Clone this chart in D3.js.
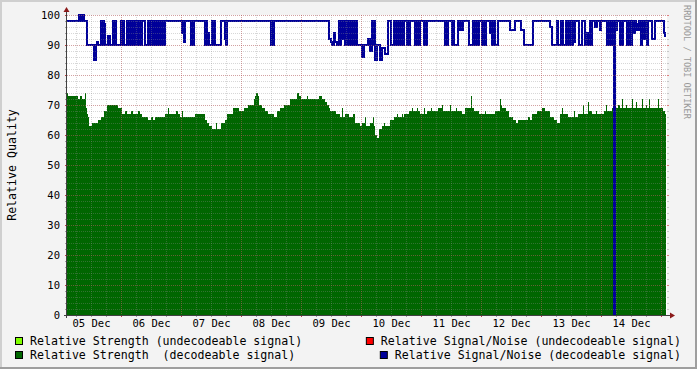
<html>
<head>
    <script src="https://d3js.org/d3.v7.min.js"></script>
    <style type="text/css">
        body { margin: 0; }
        text { font-family: "DejaVu Sans Mono", monospace; fill: #000; }
    </style>
</head>

<body>
    <svg></svg>

    <script>
        const Width = 697, Height = 369;
        const Left = 67, Right = 667, Top = 15, Bottom = 315;

        // readings: [hours after 05 Dec 00:00, value]
        const strength = [
            [2.4,74],[2.8,73],[6.8,72],[7.6,73],[8.4,72],[9.6,74],[10,69],[10.4,67],[10.8,66],[11.2,63],
            [12.4,64],[14.8,65],[16,66],[17.2,68],[18.4,70],[22.8,69],[24.4,67],[25.6,68],[26.4,67],[28,68],
            [28.8,67],[30.8,68],[31.6,67],[32.4,66],[34.8,65],[36,66],[36.8,65],[37.6,66],[41.6,67],[42.8,69],
            [43.2,67],[46,68],[46.8,67],[47.6,66],[48.4,68],[48.8,66],[53.6,67],[57.6,65],[58.4,64],[59.2,63],
            [60.4,62],[62,64],[62.4,62],[64,64],[65.6,65],[66.4,67],[68.8,69],[71.2,68],[73.2,69],[74.8,70],
            [77.2,72],[77.6,73],[78,74],[78.8,73],[79.2,70],[80.4,69],[81.6,68],[82.8,67],[85.2,66],[86.4,68],
            [87.6,69],[89.2,70],[91.6,72],[94.4,74],[95.2,73],[96,72],[98.4,73],[98.8,72],[103.2,73],[104.4,72],
            [105.6,71],[106.4,70],[107.2,69],[107.6,68],[110,67],[111.6,66],[112.4,69],[112.8,66],[113.6,67],[115.2,66],
            [116.8,67],[117.6,64],[119.6,63],[120.4,64],[121.6,66],[122,63],[123.6,64],[124.8,66],[125.2,63],[125.6,60],
            [126.4,59],[127.2,62],[128.4,63],[129.2,64],[129.6,63],[131.6,65],[133.2,66],[134.4,67],[134.8,66],[136.4,67],
            [136.8,66],[137.2,67],[139.2,68],[140.4,69],[140.8,68],[142.4,69],[142.8,68],[143.6,67],[145.2,69],[145.6,67],
            [146.4,68],[148,69],[148.4,68],[150.8,69],[152.4,70],[152.8,68],[155.6,70],[156,68],[158,69],[158.4,68],
            [160.4,67],[161.6,69],[164,73],[164.4,69],[165.2,68],[167.2,67],[169.6,68],[170,67],[173.6,68],[175.6,72],
            [176,70],[176.4,69],[178,68],[179.2,66],[180.8,65],[182,64],[182.8,65],[186.8,66],[187.6,65],[188.4,67],
            [190.4,68],[192.4,69],[193.6,68],[195.6,66],[197.2,65],[198.4,64],[199.6,67],[200.4,69],[200.8,67],[202.8,66],
            [205.2,68],[205.6,66],[206.8,67],[208.8,70],[209.2,67],[210.8,71],[211.2,68],[212.4,67],[214,68],[214.4,67],
            [217.2,68],[218,70],[218.4,68],[220.4,69],[222.8,70],[223.6,69],[224.4,72],[224.8,69],[226,70],[226.4,69],
            [228.4,72],[228.8,69],[230,71],[230.4,69],[232.4,72],[232.8,69],[234,70],[234.4,69],[235.2,72],[235.6,69],
            [238.8,72],[239.2,69],[240.8,68],[241.6,67],[242,67]
        ];

        const snr = [
            [2.4,98],[7.2,100],[8,98],[8.4,100],[9.2,98],[10.4,90],[13.2,85],[14,90],[14.4,91],[14.8,90],
            [16,98],[16.4,90],[16.8,98],[17.2,97],[17.6,90],[18.8,93],[19.6,90],[20.8,98],[21.2,90],[21.6,98],
            [22,90],[24,98],[24.4,90],[24.8,98],[25.2,90],[26.4,98],[26.8,90],[27.2,98],[27.6,90],[28,98],
            [28.4,90],[28.8,98],[29.2,90],[29.6,98],[30,90],[30.4,98],[30.8,90],[31.6,98],[32,90],[32.4,98],
            [33.6,90],[34.8,98],[35.2,90],[35.6,98],[36,90],[36.4,98],[36.8,90],[37.6,98],[38,90],[38.4,98],
            [38.8,90],[39.2,98],[39.6,90],[40,98],[40.4,90],[40.8,98],[41.2,90],[41.6,98],[48.4,94],[48.8,98],
            [49.2,91],[49.6,98],[52,90],[52.4,98],[52.8,90],[53.2,98],[57.6,90],[58,98],[58.4,90],[58.8,94],
            [59.2,90],[60.4,98],[60.8,90],[61.2,98],[61.6,90],[64,98],[65.6,92],[66,90],[66.4,98],[84,90],
            [84.4,98],[84.8,90],[85.2,98],[107.2,92],[108,91],[108.4,90],[109.2,94],[109.6,91],[110.4,90],[111.2,98],
            [111.6,90],[112,98],[112.4,92],[113.2,98],[113.6,90],[114,98],[114.4,90],[114.8,98],[115.2,90],[115.6,98],
            [116,90],[116.4,98],[116.8,90],[117.2,98],[117.6,90],[118,98],[118.4,90],[120.4,86],[121.2,90],[122.8,92],
            [123.6,88],[124.4,98],[124.8,90],[125.2,98],[125.6,85],[126.4,90],[127.6,85],[128.4,89],[129.6,87],[130.8,98],
            [132,90],[133.2,98],[133.6,90],[134,98],[134.4,90],[134.8,98],[135.2,90],[135.6,98],[136,90],[136.4,98],
            [136.8,90],[137.2,98],[138.4,90],[138.8,98],[139.2,90],[139.6,98],[141.6,90],[142,98],[142.4,90],[142.8,98],
            [143.2,90],[143.6,98],[145.2,90],[145.6,98],[146,90],[146.4,98],[153.6,90],[154,98],[154.4,90],[154.8,98],
            [156.4,90],[156.8,98],[157.2,90],[158.8,98],[159.6,95],[160,98],[160.4,95],[160.8,98],[163.2,90],[164.8,98],
            [165.2,90],[165.6,98],[166,90],[166.4,98],[166.8,90],[167.2,98],[168.4,90],[169.2,98],[169.6,90],[170,98],
            [171.6,94],[172,98],[172.4,90],[173.2,98],[173.6,90],[174.8,98],[179.6,95],[181.6,98],[184,95],[185.2,90],
            [188.8,98],[195.6,96],[196.4,90],[198.4,98],[198.8,90],[200,98],[200.8,90],[202,98],[202.4,90],[202.8,98],
            [203.2,90],[203.6,98],[204.4,90],[204.8,98],[205.2,91],[205.6,98],[207.2,90],[208.4,98],[209.6,90],[210.4,94],
            [210.8,90],[211.6,98],[212,90],[212.4,98],[213.6,96],[214.4,98],[215.6,95],[216,98],[218.4,90],[218.8,98],
            [219.2,90],[219.6,98],[220,90],[220.4,98],[220.8,95],[221.2,0],[221.6,98],[222,95],[222.4,98],[223.6,90],
            [224,98],[224.4,90],[224.8,98],[226.4,90],[226.8,98],[227.2,90],[227.6,98],[228,90],[228.4,98],[229.2,94],
            [229.6,98],[230,95],[230.4,97],[230.8,95],[231.2,98],[231.6,96],[232,90],[232.4,98],[232.8,92],[233.2,98],
            [233.6,92],[234,98],[234.4,90],[234.8,98],[236.4,92],[237.6,98],[241.2,94],[241.6,93],[242,93]
        ];

        const yTicks = [0, 10, 20, 30, 40, 50, 60, 70, 80, 90, 100];
        const dayLabels = ["05 Dec", "06 Dec", "07 Dec", "08 Dec", "09 Dec",
                           "10 Dec", "11 Dec", "12 Dec", "13 Dec", "14 Dec"];
        const legendNames = ["Relative Strength (undecodeable signal)",
                             "Relative Strength  (decodeable signal)",
                             "Relative Signal/Noise (undecodeable signal)",
                             "Relative Signal/Noise (decodeable signal)"];
        const legendColors = ["#80ff00", "#006600", "#ff0000", "#000099"];

        const t0 = new Date(2008, 11, 5);
        const at = (h) => new Date(t0.getTime() + h*3600000);

        const x = d3.scaleTime().domain([at(2.4), at(242.4)]).range([Left, Right]);
        const y = d3.scaleLinear().domain([0, 100]).range([Bottom, Top]);

        var svg = d3.select("svg")
            .attr("width", Width).attr("height", Height);

        // background and shading
        svg.append("rect").attr("width", Width).attr("height", Height).attr("fill", "#f3f3f3");
        svg.append("path").attr("fill", "#cfcfcf")
            .attr("d", `M0,0H${Width}V2H2V${Height}H0Z`);
        svg.append("path").attr("fill", "#9e9e9e")
            .attr("d", `M${Width},${Height}H0V${Height-2}H${Width-2}V0H${Width}Z`);

        svg.append("rect")
            .attr("x", Left).attr("y", Top)
            .attr("width", Right-Left).attr("height", Bottom-Top)
            .attr("fill", "#fff");

        // data
        var area = d3.area()
            .x((d) => x(at(d[0])))
            .y0(y(0))
            .y1((d) => y(d[1]))
            .curve(d3.curveStepAfter);

        svg.append("path").datum(strength)
            .attr("d", area)
            .attr("fill", "#006600")
            .attr("shape-rendering", "crispEdges");

        var line = d3.line()
            .x((d) => x(at(d[0])))
            .y((d) => y(d[1]))
            .curve(d3.curveStepAfter);

        svg.append("path").datum(snr)
            .attr("d", line)
            .attr("fill", "none")
            .attr("stroke", "#000099")
            .attr("stroke-width", 2);

        // grid
        var grid = svg.append("g").attr("shape-rendering", "crispEdges")
            .attr("stroke-dasharray", "1,1");

        var minorX = d3.timeHour.every(6).range(x.domain()[0], x.domain()[1]);
        var majorX = d3.timeDay.range(x.domain()[0], x.domain()[1]);
        var minorY = d3.range(0, 101, 2);

        grid.selectAll("line.minx").data(minorX).enter().append("line")
            .attr("x1", (d) => Math.round(x(d)) + 0.5).attr("x2", (d) => Math.round(x(d)) + 0.5)
            .attr("y1", Top).attr("y2", Bottom)
            .attr("stroke", "rgba(140,140,140,0.35)");
        grid.selectAll("line.miny").data(minorY).enter().append("line")
            .attr("x1", Left).attr("x2", Right)
            .attr("y1", (d) => y(d) + 0.5).attr("y2", (d) => y(d) + 0.5)
            .attr("stroke", "rgba(140,140,140,0.35)");
        grid.selectAll("line.majx").data(majorX).enter().append("line")
            .attr("x1", (d) => Math.round(x(d)) + 0.5).attr("x2", (d) => Math.round(x(d)) + 0.5)
            .attr("y1", Top).attr("y2", Bottom)
            .attr("stroke", "rgba(200,60,60,0.35)");
        grid.selectAll("line.majy").data(yTicks).enter().append("line")
            .attr("x1", Left).attr("x2", Right)
            .attr("y1", (d) => y(d) + 0.5).attr("y2", (d) => y(d) + 0.5)
            .attr("stroke", "rgba(200,60,60,0.35)");

        // tick marks
        var ticks = svg.append("g").attr("shape-rendering", "crispEdges");
        ticks.selectAll("line.ty").data(minorY).enter().append("line")
            .attr("x1", Left - 2).attr("x2", Left)
            .attr("y1", (d) => y(d) + 0.5).attr("y2", (d) => y(d) + 0.5)
            .attr("stroke", (d) => d % 10 == 0 ? "#c04040" : "#a0a0a0");
        ticks.selectAll("line.tyr").data(minorY).enter().append("line")
            .attr("x1", Right).attr("x2", Right + 2)
            .attr("y1", (d) => y(d) + 0.5).attr("y2", (d) => y(d) + 0.5)
            .attr("stroke", (d) => d % 10 == 0 ? "#e08080" : "#c8c8c8");
        ticks.selectAll("line.tx").data(minorX).enter().append("line")
            .attr("x1", (d) => Math.round(x(d)) + 0.5).attr("x2", (d) => Math.round(x(d)) + 0.5)
            .attr("y1", Bottom).attr("y2", Bottom + 2)
            .attr("stroke", (d) => d.getHours() == 0 ? "#c04040" : "#a0a0a0");

        // axes lines and arrows
        svg.append("line").attr("x1", Left - 3).attr("x2", Right + 4)
            .attr("y1", Bottom + 0.5).attr("y2", Bottom + 0.5)
            .attr("stroke", "#404040").attr("shape-rendering", "crispEdges");
        svg.append("line").attr("x1", Left - 0.5).attr("x2", Left - 0.5)
            .attr("y1", Bottom + 3).attr("y2", Top - 3)
            .attr("stroke", "#404040").attr("shape-rendering", "crispEdges");
        svg.append("path").attr("fill", "#8b1a1a")
            .attr("d", `M${Right+8},${Bottom+0.5}L${Right+3},${Bottom-2.5}V${Bottom+3.5}Z`);
        svg.append("path").attr("fill", "#8b1a1a")
            .attr("d", `M${Left-0.5},${Top-8}L${Left-3.5},${Top-3}H${Left+2.5}Z`);

        // axes labels
        var yAxis = svg.append("g")
            .attr("transform", `translate(${Left},0)`)
            .call(d3.axisLeft(y).tickValues(yTicks).tickSize(0).tickPadding(7));
        yAxis.select(".domain").remove();
        yAxis.selectAll("text")
            .attr("font-family", "DejaVu Sans Mono").attr("font-size", 10.5).attr("fill", "#000");

        var noons = d3.range(dayLabels.length).map((i) => at(12 + 24*i));
        var xAxis = svg.append("g")
            .attr("transform", `translate(0,${Bottom})`)
            .call(d3.axisBottom(x).tickValues(noons).tickFormat((d, i) => dayLabels[i])
                .tickSize(0).tickPadding(5));
        xAxis.select(".domain").remove();
        xAxis.selectAll("text")
            .attr("font-family", "DejaVu Sans Mono").attr("font-size", 10.5).attr("fill", "#000");

        svg.append("text")
            .attr("transform", `translate(16,${(Top+Bottom)/2}) rotate(-90)`)
            .attr("text-anchor", "middle")
            .attr("font-size", 11.6)
            .text("Relative Quality");

        svg.append("text")
            .attr("transform", "translate(684,5) rotate(90)")
            .attr("font-size", 8.6)
            .style("fill", "#999")
            .text("RRDTOOL / TOBI OETIKER");

        // legend
        var legendPos = [[15, 337, "start"], [15, 351, "start"], [681, 337, "end"], [681, 351, "end"]];
        var legend = svg.selectAll("g.legend").data(legendNames).enter()
            .append("g").classed("legend", true);
        legend.each(function(name, i)
        {
            let g = d3.select(this);
            let p = legendPos[i];
            let t = g.append("text")
                .attr("font-size", 11.6)
                .attr("xml:space", "preserve")
                .style("white-space", "pre")
                .text(name);
            let w = t.node().getComputedTextLength();
            let tx = p[2] == "start" ? p[0] + 15 : p[0] - w;
            t.attr("x", tx).attr("y", p[1] + 8);
            g.append("rect")
                .attr("x", tx - 14.5).attr("y", p[1] + 0.5)
                .attr("width", 7).attr("height", 7)
                .attr("fill", legendColors[i])
                .attr("stroke", "#000");
        });
    </script>
</body>

</html>
